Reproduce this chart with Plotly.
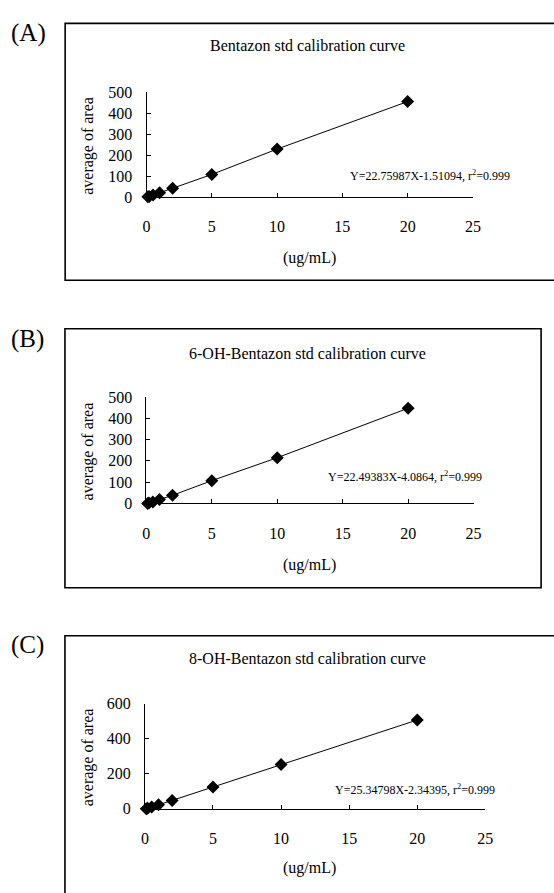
import plotly.graph_objects as go

W, H = 554, 893

conc = [0.1, 0.2, 0.5, 1, 2, 5, 10, 20]
area_bentazon = [1, 3, 10, 20, 42, 108, 229, 456]
area_6oh = [0, 2, 7, 18, 38, 107, 215, 448]
area_8oh = [1, 3, 10, 23, 48, 124, 252, 506]

titles = ["Bentazon std calibration curve",
          "6-OH-Bentazon std calibration curve",
          "8-OH-Bentazon std calibration curve"]
equations = ["Y=22.75987X-1.51094, r<sup>2</sup>=0.999",
             "Y=22.49383X-4.0864, r<sup>2</sup>=0.999",
             "Y=25.34798X-2.34395, r<sup>2</sup>=0.999"]
panel_labels = ["(A)", "(B)", "(C)"]
x_ticks = [0, 5, 10, 15, 20, 25]
y_ranges = [[0, 500], [0, 500], [0, 600]]
y_dticks = [100, 100, 200]
x_title = "(ug/mL)"
y_title = "average of area"

FONT = "Liberation Serif"


def px(x):
    return x / W


def py(y):
    return 1 - y / H


# pixel geometry of each panel
panels = [
    dict(ax_x0=145.7, ax_x1=479.3, ax_y0=192.7, ax_y1=86.0, frame=(62.5, 15.7, 600, 277.5),
         title_y=38.6, eq=(519, 170.5), xtl_y=255, label_y=25),
    dict(ax_x0=145.5, ax_x1=480.0, ax_y0=505.0, ax_y1=396.7, frame=(62.3, 327, 549, 591),
         title_y=352, eq=(491, 478), xtl_y=568, label_y=337),
    dict(ax_x0=144.0, ax_x1=492.0, ax_y0=816.4, ax_y1=709.0, frame=(62.3, 640, 600, 1000),
         title_y=663, eq=(504, 796.3), xtl_y=877, label_y=649),
]
series = [area_bentazon, area_6oh, area_8oh]

fig = go.Figure()
layout = dict(
    width=W, height=H, margin=dict(l=0, r=0, t=0, b=0),
    paper_bgcolor="white", plot_bgcolor="white", showlegend=False,
    font=dict(family=FONT, color="black", size=16),
)
annotations = []
shapes = []

for i, p in enumerate(panels):
    xa = "xaxis" if i == 0 else f"xaxis{i+1}"
    ya = "yaxis" if i == 0 else f"yaxis{i+1}"
    xr = "x" if i == 0 else f"x{i+1}"
    yr = "y" if i == 0 else f"y{i+1}"
    fig.add_trace(go.Scatter(
        x=conc, y=series[i], mode="lines+markers", xaxis=xr, yaxis=yr,
        line=dict(color="black", width=1),
        marker=dict(symbol="diamond", size=10, color="black"),
        cliponaxis=False,
    ))
    layout[xa] = dict(
        domain=[px(p["ax_x0"]), px(p["ax_x1"])], range=[0, 25], anchor=yr,
        tickvals=x_ticks, ticks="inside", ticklen=4, tickcolor="black", tickwidth=1,
        showline=True, linecolor="black", linewidth=1, showgrid=False, zeroline=False,
        tickfont=dict(family=FONT, size=16, color="black"), ticklabelstandoff=15,
    )
    layout[ya] = dict(
        domain=[py(p["ax_y0"]), py(p["ax_y1"])], range=y_ranges[i], anchor=xr,
        dtick=y_dticks[i], tick0=0, ticks="inside", ticklen=4, tickcolor="black", tickwidth=1,
        showline=True, linecolor="black", linewidth=1, showgrid=False, zeroline=False,
        tickfont=dict(family=FONT, size=16, color="black"), ticklabelstandoff=10,
    )
    fx0, fy0, fx1, fy1 = p["frame"]
    shapes.append(dict(type="rect", xref="paper", yref="paper",
                       x0=px(fx0), x1=px(fx1), y0=py(fy0), y1=py(fy1),
                       line=dict(color="black", width=1.6)))
    annotations.append(dict(text=titles[i], xref="paper", yref="paper",
                            x=px(310), y=py(p["title_y"]), xanchor="center", yanchor="middle",
                            showarrow=False, font=dict(family=FONT, size=16)))
    annotations.append(dict(text=equations[i], xref="paper", yref="paper",
                            x=px(p["eq"][0]), y=py(p["eq"][1]), xanchor="right", yanchor="middle",
                            showarrow=False, font=dict(family=FONT, size=12)))
    annotations.append(dict(text=x_title, xref="paper", yref="paper",
                            x=px(312), y=py(p["xtl_y"]), xanchor="center", yanchor="middle",
                            showarrow=False, font=dict(family=FONT, size=16)))
    annotations.append(dict(text=y_title, xref="paper", yref="paper", textangle=-90,
                            x=px(86), y=py((p["ax_y0"] + p["ax_y1"]) / 2 + 1), xanchor="center",
                            yanchor="middle", showarrow=False, font=dict(family=FONT, size=16)))
    annotations.append(dict(text=panel_labels[i], xref="paper", yref="paper",
                            x=px(5), y=py(p["label_y"]), xanchor="left", yanchor="middle",
                            showarrow=False, font=dict(family=FONT, size=25)))

layout["annotations"] = annotations
layout["shapes"] = shapes
fig.update_layout(**layout)
fig.write_html(
    "out.html",
    config={"displayModeBar": False},
    post_script="document.body.style.margin='0';document.body.style.overflow='hidden';",
)
